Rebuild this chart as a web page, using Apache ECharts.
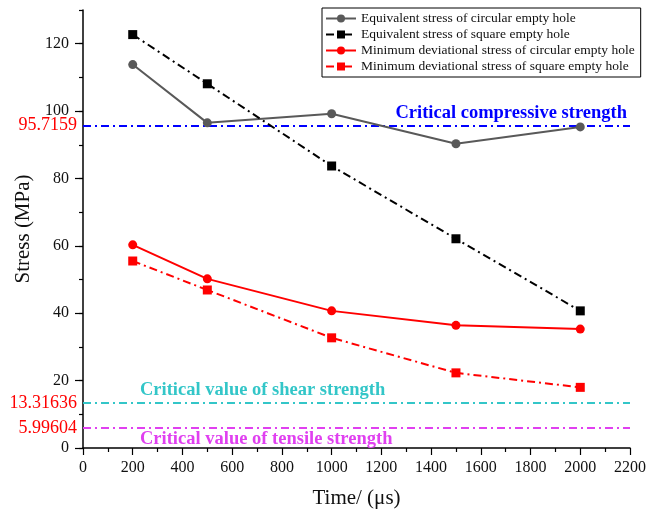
<!DOCTYPE html>
<html>
<head>
<meta charset="utf-8">
<script src="https://cdn.jsdelivr.net/npm/echarts@6/dist/echarts.min.js"></script>
<style>html,body{margin:0;padding:0;background:#fff}#c{width:651px;height:522px}</style>
</head>
<body>
<div id="c"></div>
<script>
const times = [200, 500, 1000, 1500, 2000];
const eqCircular = [113.8, 96.5, 99.2, 90.3, 95.3];
const eqSquare = [122.7, 108.1, 83.7, 62.1, 40.7];
const devCircular = [60.3, 50.2, 40.7, 36.4, 35.3];
const devSquare = [55.5, 46.9, 32.7, 22.3, 18.0];
const seriesNames = [
  'Equivalent stress of circular empty hole',
  'Equivalent stress of square empty hole',
  'Minimum deviational stress of circular empty hole',
  'Minimum deviational stress of square empty hole'
];
const compressive = 95.7159;
const shear = 13.31636;
const tensile = 5.99604;
const levelValueLabels = ['95.7159', '13.31636', '5.99604'];
const levelNames = ['Critical compressive strength', 'Critical value of shear strength', 'Critical value of tensile strength'];
const yMajorTicks = [0, 20, 40, 60, 80, 100, 120];

const FONT = '"Liberation Serif", "DejaVu Serif", serif';
const DASHDOT = [8, 4, 2, 4];
const pair = (xs, ys) => xs.map((x, i) => [x, ys[i]]);

function levelLines(value, color, valueText, nameText, namePos, nameDist) {
  return [
    {
      yAxis: value,
      lineStyle: { color: color, width: 2, type: DASHDOT },
      label: { show: true, position: 'start', formatter: valueText, color: '#ff0000', fontSize: 18, fontFamily: FONT, distance: 6 }
    },
    {
      yAxis: value,
      lineStyle: { color: 'rgba(0,0,0,0)', width: 1, type: 'solid' },
      label: { show: true, position: namePos, formatter: nameText, color: color, fontSize: 18.5, fontWeight: 'bold', fontFamily: FONT, distance: nameDist }
    }
  ];
}

const chart = echarts.init(document.getElementById('c'), null, { renderer: 'canvas' });
chart.setOption({
  animation: false,
  backgroundColor: '#fff',
  grid: { left: 83, right: 21, top: 10, bottom: 74, containLabel: false },
  legend: {
    orient: 'vertical',
    left: 322, top: 8,
    data: seriesNames,
    borderColor: '#000', borderWidth: 1,
    padding: [3, 6, 3, 3],
    itemGap: 1,
    itemWidth: 30, itemHeight: 10,
    textStyle: { fontFamily: FONT, fontSize: 13.5, color: '#111', lineHeight: 15 },
    backgroundColor: '#fff'
  },
  xAxis: {
    type: 'value', min: 0, max: 2200, interval: 200,
    name: 'Time/ (\u03bcs)', nameLocation: 'middle', nameGap: 40,
    nameTextStyle: { fontFamily: FONT, fontSize: 21, color: '#111' },
    axisLine: { show: true, lineStyle: { color: '#000', width: 1.5 } },
    axisTick: { show: true, length: 7, lineStyle: { color: '#000', width: 1.2 } },
    minorTick: { show: true, splitNumber: 2, length: 4, lineStyle: { color: '#000', width: 1.2 } },
    axisLabel: { fontFamily: FONT, fontSize: 16, color: '#111', margin: 12, formatter: v => String(v) },
    splitLine: { show: false }
  },
  yAxis: [
    {
      type: 'value', min: 0, max: 130, interval: 10,
      name: 'Stress (MPa)', nameLocation: 'middle', nameGap: 38,
      nameTextStyle: { fontFamily: FONT, fontSize: 21, color: '#111' },
      axisLine: { show: true, lineStyle: { color: '#000', width: 1.5 } },
      axisTick: { show: true, length: 4, lineStyle: { color: '#000', width: 1.2 } },
      axisLabel: {
        fontFamily: FONT, fontSize: 16, color: '#111', margin: 14,
        formatter: v => (yMajorTicks.indexOf(v) >= 0 ? String(v) : '')
      },
      splitLine: { show: false }
    },
    {
      type: 'value', min: 0, max: 130, interval: 10, position: 'left',
      axisLine: { show: false },
      axisTick: { show: true, length: 8, customValues: yMajorTicks, lineStyle: { color: '#000', width: 1.2 } },
      axisLabel: { show: false },
      splitLine: { show: false }
    }
  ],
  series: [
    {
      name: seriesNames[0], type: 'line', data: pair(times, eqCircular),
      symbol: 'circle', symbolSize: 9,
      itemStyle: { color: '#595959' }, lineStyle: { color: '#595959', width: 2 },
      z: 5,
      markLine: {
        silent: true, symbol: ['none', 'none'], animation: false,
        data: [
          ...levelLines(compressive, '#0000ff', levelValueLabels[0], levelNames[0], 'insideEndTop', 3),
          ...levelLines(shear, '#33c6c8', levelValueLabels[1], levelNames[1], 'insideStartTop', [57, 3]),
          ...levelLines(tensile, '#e040f0', levelValueLabels[2], levelNames[2], 'insideStartBottom', [57, 2])
        ]
      }
    },
    {
      name: seriesNames[1], type: 'line', data: pair(times, eqSquare),
      symbol: 'rect', symbolSize: 9,
      itemStyle: { color: '#000' }, lineStyle: { color: '#000', width: 2, type: DASHDOT }, z: 5
    },
    {
      name: seriesNames[2], type: 'line', data: pair(times, devCircular),
      symbol: 'circle', symbolSize: 9,
      itemStyle: { color: '#ff0000' }, lineStyle: { color: '#ff0000', width: 2 }, z: 5
    },
    {
      name: seriesNames[3], type: 'line', data: pair(times, devSquare),
      symbol: 'rect', symbolSize: 9,
      itemStyle: { color: '#ff0000' }, lineStyle: { color: '#ff0000', width: 2, type: DASHDOT }, z: 5
    }
  ]
});
</script>
</body>
</html>
